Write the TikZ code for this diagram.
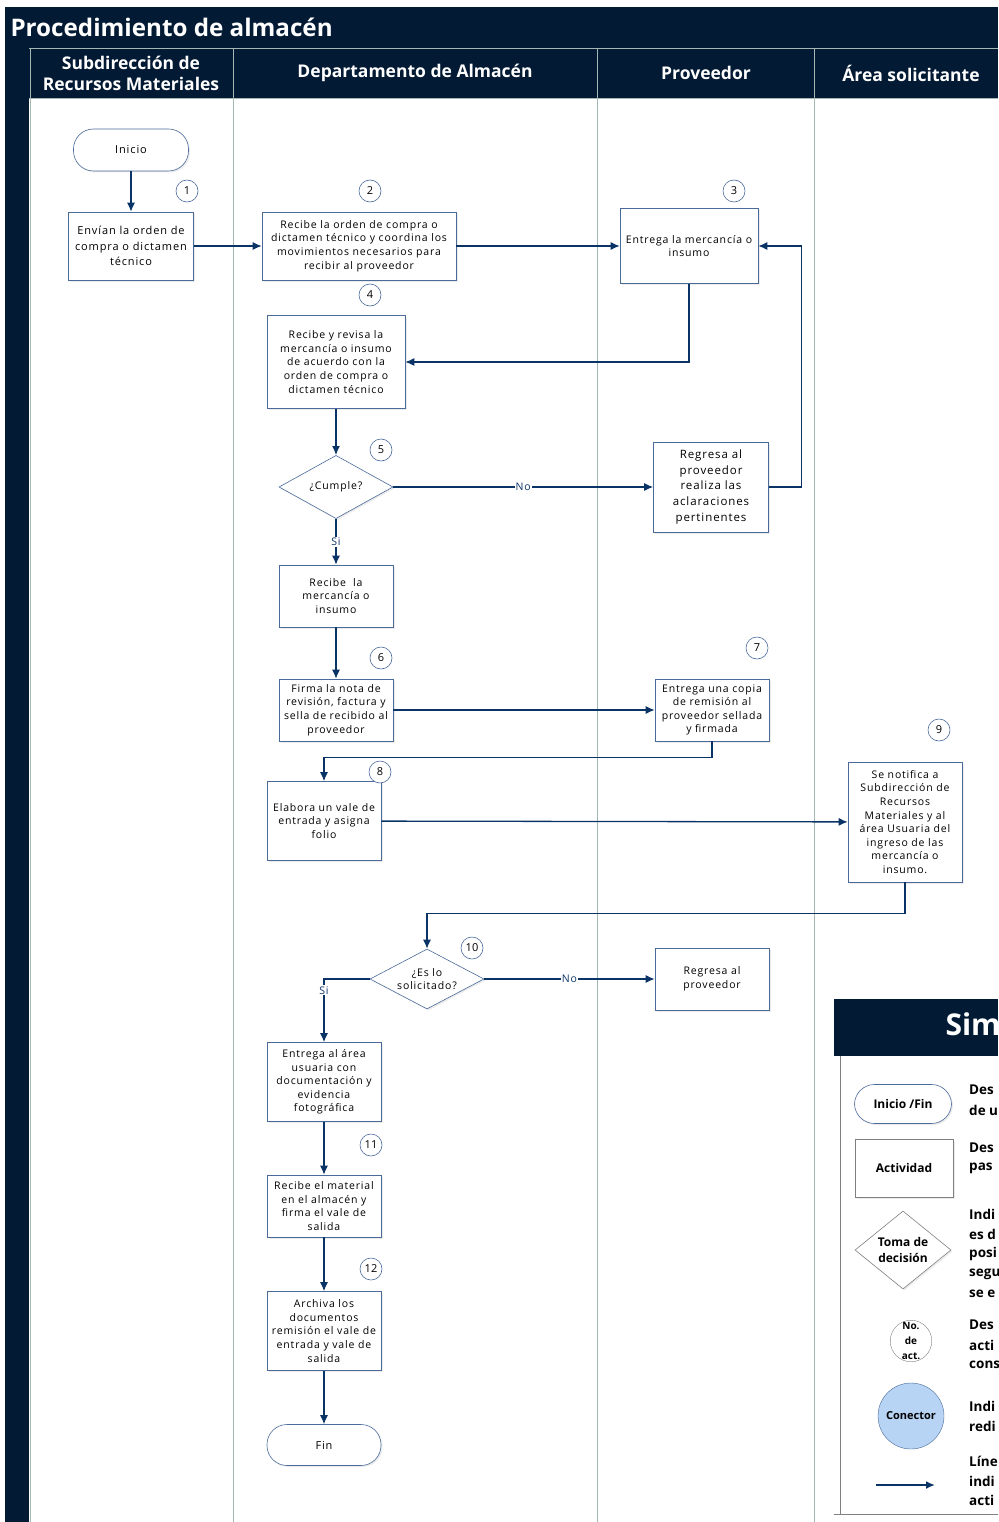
\documentclass[tikz,border=0pt]{standalone}
\usepackage{fontspec}
\setmainfont{Open Sans}
\newfontfamily\boxfont[LetterSpace=8]{Open Sans}
\usetikzlibrary{arrows.meta,positioning,shapes.geometric,shadows}
\definecolor{navy}{HTML}{021A33}
\definecolor{flowblue}{HTML}{0B3466}
\definecolor{edgeblue}{HTML}{4A6A9A}
\definecolor{lanegray}{HTML}{A3B8B3}
\definecolor{conblue}{HTML}{B7D4F5}
\tikzset{
  actbox/.style={draw=edgeblue, semithick, fill=white, align=center, inner sep=1pt, font=\boxfont\fontsize{10.5}{13.6}\selectfont, drop shadow={opacity=0.15, shadow xshift=1.5pt, shadow yshift=-1.5pt}},
  decbox/.style={diamond, draw=edgeblue, semithick, fill=white, align=center, inner sep=0pt, font=\boxfont\fontsize{10.5}{13.6}\selectfont, drop shadow={opacity=0.15, shadow xshift=1.5pt, shadow yshift=-1.5pt}},
  endbox/.style={draw=edgeblue, semithick, fill=white, rounded corners=20pt, align=center, font=\boxfont\fontsize{11}{12}\selectfont, drop shadow={opacity=0.15, shadow xshift=1.5pt, shadow yshift=-1.5pt}},
  numc/.style={circle, draw=edgeblue, semithick, fill=white, minimum size=22pt, inner sep=0pt, font=\fontsize{11}{11}\selectfont},
  farr/.style={-{Latex[length=9pt,width=8pt]}, flowblue, line width=1.3pt},
  lbl/.style={fill=white, inner sep=1pt, font=\boxfont\fontsize{10.5}{11}\selectfont},
  lanetxt/.style={text=white, align=center, font=\fontsize{17.5}{21}\selectfont\bfseries},
  keylbl/.style={font=\fontsize{12}{16}\selectfont\bfseries},
  keytxt/.style={anchor=west, inner sep=0pt, font=\fontsize{13.5}{13.5}\selectfont\bfseries}
}
\begin{document}
\begin{tikzpicture}[x=1pt,y=-1pt]
\useasboundingbox (0,0) rectangle (998,1522);
\clip (0,0) rectangle (998,1522);
% title bar and lanes
\fill[navy] (5,7) rectangle (998,98);
\fill[navy] (5,7) rectangle (29,1522);
\draw[lanegray] (29,48) -- (998,48);
\draw[lanegray] (29,98) -- (998,98);
\foreach \lx in {30,233,597,814} \draw[lanegray, thick] (\lx,48) -- (\lx,1522);
\node[anchor=west, text=white, font=\fontsize{24.2}{26}\selectfont\bfseries] (title) at (7,27) {Procedimiento de almacén};
\node[lanetxt] (l1) at (131,73) {Subdirección de\\Recursos Materiales};
\node[lanetxt] (l2) at (415,73) {Departamento de Almacén};
\node[lanetxt] (l3) at (706,73) {Proveedor};
\node[lanetxt] (l4) at (911,73) {Área solicitante};

% flow
\node[endbox, minimum width=115pt, minimum height=42pt] (ini) at (131,150) {Inicio};
\node[actbox, minimum width=125pt, minimum height=68pt, font=\boxfont\fontsize{11}{15.5}\selectfont] (a1) at (131,246) {Envían la orden de\\compra o dictamen\\técnico};
\node[actbox, minimum width=194pt, minimum height=68pt] (a2) at (359,246) {Recibe la orden de compra o\\dictamen técnico y coordina los\\movimientos necesarios para\\recibir al proveedor};
\node[actbox, minimum width=138pt, minimum height=75pt] (a3) at (689,246) {Entrega la mercancía o\\insumo};
\node[actbox, minimum width=138pt, minimum height=93pt] (a4) at (336,362) {Recibe y revisa la\\mercancía o insumo\\de acuerdo con la\\orden de compra o\\dictamen técnico};
\node[decbox, minimum width=114pt, minimum height=62pt] (d5) at (336,487) {¿Cumple?};
\node[actbox, minimum width=115pt, minimum height=90pt, font=\boxfont\fontsize{11.5}{15.6}\selectfont] (r5) at (711,487) {Regresa al\\proveedor\\realiza las\\aclaraciones\\pertinentes};
\node[actbox, minimum width=114pt, minimum height=62pt] (a5) at (336,596) {Recibe~ la\\mercancía o\\insumo};
\node[actbox, minimum width=114pt, minimum height=62pt] (a6) at (336,710) {Firma la nota de\\revisión, factura y\\sella de recibido al\\proveedor};
\node[actbox, minimum width=114pt, minimum height=62pt] (a7) at (712,710) {Entrega una copia\\de remisión al\\proveedor sellada\\y firmada};
\node[actbox, minimum width=114pt, minimum height=79pt] (a8) at (324,821) {Elabora un vale de\\entrada y asigna\\folio};
\node[actbox, minimum width=114pt, minimum height=120pt] (a9) at (905,822) {Se notifica a\\Subdirección de\\Recursos\\Materiales y al\\área Usuaria del\\ingreso de las\\mercancía o\\insumo.};
\node[decbox, inner sep=-7pt, minimum width=114pt, minimum height=60pt] (d10) at (427,979) {¿Es lo\\solicitado?};
\node[actbox, minimum width=114pt, minimum height=62pt] (r10) at (712,979) {Regresa al\\proveedor};
\node[actbox, minimum width=114pt, minimum height=79pt] (a11) at (324,1082) {Entrega al área\\usuaria con\\documentación y\\evidencia\\fotográfica};
\node[actbox, minimum width=114pt, minimum height=62pt] (a12) at (324,1206) {Recibe el material\\en el almacén y\\firma el vale de\\salida};
\node[actbox, minimum width=114pt, minimum height=79pt] (a13) at (324,1331) {Archiva los\\documentos\\remisión el vale de\\entrada y vale de\\salida};
\node[endbox, minimum width=114pt, minimum height=41pt] (fin) at (324,1445) {Fin};

% activity numbers
\node[numc] (n1) at (187,191) {1};
\node[numc] (n2) at (370,191) {2};
\node[numc] (n3) at (734,191) {3};
\node[numc] (n4) at (370,295) {4};
\node[numc] (n5) at (381,450) {5};
\node[numc] (n6) at (381,658) {6};
\node[numc] (n7) at (757,648) {7};
\node[numc] (n8) at (380,772) {8};
\node[numc] (n9) at (939,730) {9};
\node[numc] (n10) at (472,948) {10};
\node[numc] (n11) at (371,1145) {11};
\node[numc] (n12) at (371,1269) {12};

% connectors
\draw[farr] (ini) -- (a1); \draw[farr] (a1) -- (a2); \draw[farr] (a2) -- (a3);
\draw[farr] (a3.south) |- (a4.east);
\draw[farr] (a4) -- (d5);
\draw[farr] (d5.east) -- node[lbl] {No} (r5.west);
\draw[farr] (r5.east) -- ++(33,0) |- (a3.east);
\draw[farr] (d5.south) -- node[lbl] {Si} (a5.north);
\draw[farr] (a5) -- (a6); \draw[farr] (a6) -- (a7);
\draw[farr] (a7.south) -- ++(0,16) -| (a8.north);
\draw[farr] (a8) -- (a9);
\draw[farr] (a9.south) -- ++(0,31) -| (d10.north);
\draw[farr] (d10.east) -- node[lbl] {No} (r10.west);
\draw[farr] (d10.west) -| node[lbl, pos=0.59] {Si} (a11.north);
\draw[farr] (a11) -- (a12); \draw[farr] (a12) -- (a13); \draw[farr] (a13) -- (fin);

% legend
\fill[white] (834,999) rectangle (998,1514);
\fill[navy] (834,999) rectangle (998,1056);
\draw[gray] (840,1056) -- (840,1514);
\draw[gray] (834,1514) -- (998,1514);
\node[anchor=west, text=white, font=\fontsize{30}{30}\selectfont\bfseries] (kt) at (942,1028) {Simbología};
\node[endbox, keylbl, minimum width=97pt, minimum height=39pt] (k1) at (903,1104) {Inicio /Fin};
\node[actbox, keylbl, draw=gray, minimum width=98pt, minimum height=58pt] (k2) at (904,1168) {Actividad};
\node[decbox, keylbl, draw=gray, minimum width=96pt, minimum height=78pt] (k3) at (903,1250) {Toma de\\decisión};
\node[circle, draw=gray, minimum size=40pt, inner sep=0pt, align=center, font=\fontsize{10}{15}\selectfont\bfseries] (k4) at (911,1341) {No.\\de\\act.};
\node[circle, draw=edgeblue, fill=conblue, minimum size=66pt, inner sep=0pt, font=\fontsize{11}{12}\selectfont\bfseries] (k5) at (911,1416) {Conector};
\coordinate (k6a) at (876,1485);
\coordinate (k6b) at (935,1485);
\draw[farr, line width=2pt] (k6a) -- (k6b);
\node[keytxt] (t1a) at (969,1090) {Des};
\node[keytxt] (t1b) at (969,1110) {de u};
\node[keytxt] (t2a) at (969,1148) {Des};
\node[keytxt] (t2b) at (969,1168) {pas};
\node[keytxt] (t3a) at (969,1214) {Indi};
\node[keytxt] (t3b) at (969,1234) {es d};
\node[keytxt] (t3c) at (969,1254) {posi};
\node[keytxt] (t3d) at (969,1274) {segu};
\node[keytxt] (t3e) at (969,1294) {se e};
\node[keytxt] (t4a) at (969,1325) {Des};
\node[keytxt] (t4b) at (969,1345) {acti};
\node[keytxt] (t4c) at (969,1365) {cons};
\node[keytxt] (t5a) at (969,1406) {Indi};
\node[keytxt] (t5b) at (969,1426) {redi};
\node[keytxt] (t6a) at (969,1461) {Líne};
\node[keytxt] (t6b) at (969,1481) {indi};
\node[keytxt] (t6c) at (969,1500) {acti};
\end{tikzpicture}
\end{document}
